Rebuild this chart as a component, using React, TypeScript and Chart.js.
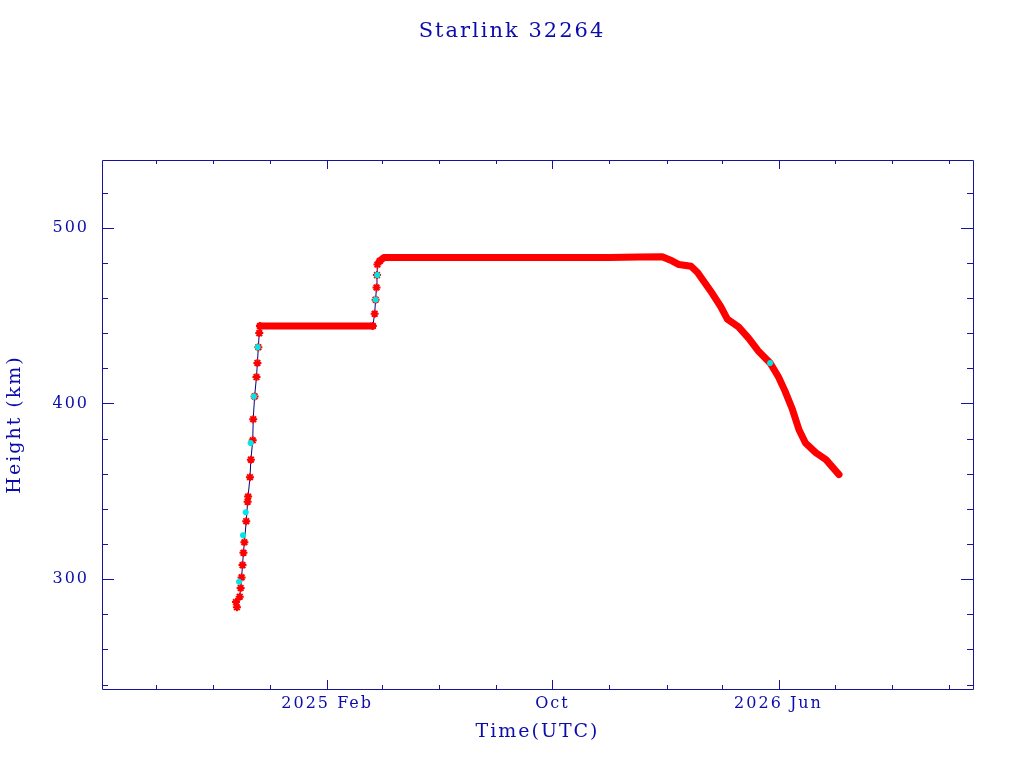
import React, { useEffect, useRef } from "react";
import { Chart, registerables } from "chart.js";

Chart.register(...registerables);

// ---- data ----
const TITLE = "Starlink 32264";
const X_TITLE = "Time(UTC)";
const Y_TITLE = "Height (km)";

const X_MIN = "2024-06-04";
const X_MAX = "2026-12-27";
const Y_MIN = 237.5;
const Y_MAX = 538.5;

const xMajorTicks = ["2025-02-01", "2025-10-01", "2026-06-01"];
const xMajorLabels = ["2025 Feb", "Oct", "2026 Jun"];
const xMinorTicks = [
  "2024-08-01", "2024-10-01", "2024-12-01", "2025-04-01", "2025-06-01", "2025-08-01",
  "2025-12-01", "2026-02-01", "2026-04-01", "2026-08-01", "2026-10-01", "2026-12-01",
];
const yMajorTicks = [300, 400, 500];
const yMinorTicks = [240, 260, 280, 320, 340, 360, 380, 420, 440, 460, 480, 520];

// first orbit raise (sparse observations)
const rise1Dates = [
  "2024-10-26T00:00", "2024-10-27T00:00", "2024-10-30T00:00", "2024-10-31T00:00",
  "2024-11-01T00:00", "2024-11-02T00:00", "2024-11-03T00:00", "2024-11-04T00:00",
  "2024-11-06T00:00", "2024-11-07T12:00", "2024-11-08T00:00", "2024-11-10T00:00",
  "2024-11-11T00:00", "2024-11-13T00:00", "2024-11-13T12:00", "2024-11-15T00:00",
  "2024-11-17T00:00", "2024-11-18T00:00", "2024-11-19T00:00", "2024-11-20T00:00",
  "2024-11-20T18:00",
];
const rise1Heights = [
  287, 284, 290, 295, 301, 308, 315, 321, 333, 344, 347, 358, 368, 379, 391, 404,
  415, 423, 432, 440, 444,
];

// second orbit raise
const rise2Dates = [
  "2025-03-22T00:00", "2025-03-24T00:00", "2025-03-25T00:00", "2025-03-26T00:00",
  "2025-03-26T12:00", "2025-03-27T00:00", "2025-03-29T12:00",
];
const rise2Heights = [444, 451, 459, 466, 473, 479, 481];

// dense tracks (first and second shell)
const track1Dates = [
  "2024-11-20T18:00", "2024-12-15T00:00", "2025-01-10T00:00", "2025-02-05T00:00",
  "2025-03-01T00:00", "2025-03-22T00:00",
];
const track1Heights = [444, 444, 444, 444, 444, 444];

const track2Dates = [
  "2025-03-29T12:00", "2025-04-03T00:00", "2025-06-01T00:00", "2025-08-01T00:00",
  "2025-10-01T00:00", "2025-12-01T00:00", "2026-01-02T00:00", "2026-01-27T00:00",
  "2026-02-07T00:00", "2026-02-14T00:00", "2026-02-27T00:00", "2026-03-06T00:00",
  "2026-03-20T00:00", "2026-03-31T00:00", "2026-04-07T00:00", "2026-04-19T00:00",
  "2026-04-30T00:00", "2026-05-10T00:00", "2026-05-23T00:00", "2026-06-01T00:00",
  "2026-06-08T00:00", "2026-06-16T00:00", "2026-06-23T00:00", "2026-06-30T00:00",
  "2026-07-11T00:00", "2026-07-22T00:00", "2026-08-05T00:00",
];
const track2Heights = [
  481, 483, 483, 483, 483, 483, 483.3, 483.5, 481, 479, 478, 474.5, 464, 455, 448,
  443.5, 437, 430, 423, 415, 407, 396.5, 385, 377.5, 372, 368, 359.5,
];

// cyan-marked observations
const cyanDates = [
  "2024-10-29T06:00", "2024-11-02T12:00", "2024-11-05T10:00", "2024-11-10T18:00",
  "2024-11-14T08:00", "2024-11-18T08:00", "2025-03-25T00:00", "2025-03-26T18:00",
  "2026-05-23T00:00",
];
const cyanHeights = [298.5, 325, 338, 377.5, 404, 432, 459, 473, 423];

// ---- styling ----
const TEXT_BLUE = "#0c0cac";
const AXIS_BLUE = "#14149c";
const FONT = "'DejaVu Serif', 'Liberation Serif', serif";

const toMs = (s: string) => Date.parse(s.length === 10 ? s + "T00:00:00Z" : s + ":00Z");
const pts = (d: string[], h: number[]) => d.map((s, i) => ({ x: toMs(s), y: h[i] }));

const spacingPlugin = {
  id: "letterSpacing",
  beforeLayout(chart: any) {
    (chart.ctx as any).letterSpacing = "2px";
  },
  beforeDraw(chart: any) {
    (chart.ctx as any).letterSpacing = "2px";
  },
};

const framePlugin = {
  id: "pgFrame",
  afterDraw(chart: any) {
    const { ctx, chartArea, scales } = chart;
    const { left, right, top, bottom } = chartArea;
    const xs = scales.x;
    const ys = scales.y;
    ctx.save();
    ctx.strokeStyle = AXIS_BLUE;
    ctx.lineWidth = 1;
    ctx.beginPath();
    ctx.rect(Math.round(left) + 0.5, Math.round(top) + 0.5, Math.round(right - left), Math.round(bottom - top));
    const vt = (ms: number, len: number) => {
      const px = Math.round(xs.getPixelForValue(ms)) + 0.5;
      ctx.moveTo(px, bottom);
      ctx.lineTo(px, bottom - len);
      ctx.moveTo(px, top);
      ctx.lineTo(px, top + len);
    };
    const ht = (v: number, len: number) => {
      const py = Math.round(ys.getPixelForValue(v)) + 0.5;
      ctx.moveTo(left, py);
      ctx.lineTo(left + len, py);
      ctx.moveTo(right, py);
      ctx.lineTo(right - len, py);
    };
    xMajorTicks.forEach((d) => vt(toMs(d), 9));
    xMinorTicks.forEach((d) => vt(toMs(d), 4));
    yMajorTicks.forEach((v) => ht(v, 12));
    yMinorTicks.forEach((v) => ht(v, 6));
    ctx.stroke();
    ctx.restore();
  },
};

export default function App() {
  const ref = useRef<HTMLCanvasElement | null>(null);

  useEffect(() => {
    document.body.style.margin = "0";
    if (!ref.current) return;
    const riseStyle = {
      borderColor: "#000080",
      borderWidth: 1,
      showLine: true,
      pointStyle: "star" as const,
      pointRadius: 4,
      pointBorderColor: "#ff0000",
      pointBackgroundColor: "#ff0000",
      pointBorderWidth: 2,
      tension: 0,
    };
    const trackStyle = {
      borderColor: "#ff0000",
      borderWidth: 7,
      showLine: true,
      pointRadius: 0,
      borderJoinStyle: "round" as const,
      borderCapStyle: "round" as const,
      tension: 0,
    };
    const chart = new Chart(ref.current, {
      type: "scatter",
      data: {
        datasets: [
          {
            data: pts(cyanDates, cyanHeights),
            showLine: false,
            pointStyle: "star",
            pointRadius: 3,
            pointBorderColor: "#00e6e6",
            pointBackgroundColor: "#00e6e6",
            pointBorderWidth: 2,
          },
          { data: pts(rise1Dates, rise1Heights), ...riseStyle },
          { data: pts(rise2Dates, rise2Heights), ...riseStyle },
          { data: pts(track1Dates, track1Heights), ...trackStyle },
          { data: pts(track2Dates, track2Heights), ...trackStyle },
        ] as any,
      },
      options: {
        responsive: false,
        animation: false,
        devicePixelRatio: 1,
        layout: { padding: { left: 0, right: 0, top: 0, bottom: 0 } },
        plugins: {
          legend: { display: false },
          tooltip: { enabled: false },
          title: {
            display: true,
            text: TITLE,
            color: TEXT_BLUE,
            font: { family: FONT, size: 21, weight: "normal" },
            padding: { top: 19.4, bottom: 115.4 },
          },
        },
        scales: {
          x: {
            type: "linear",
            min: toMs(X_MIN),
            max: toMs(X_MAX),
            grid: { display: false, drawTicks: false },
            border: { display: false },
            afterBuildTicks: (s: any) => {
              s.ticks = xMajorTicks.map((d) => ({ value: toMs(d) }));
            },
            afterFit: (s: any) => {
              s.height = 79;
            },
            ticks: {
              autoSkip: false,
              maxRotation: 0,
              color: TEXT_BLUE,
              padding: 5,
              font: { family: FONT, size: 16 },
              callback: (_v: any, i: number) => xMajorLabels[i],
            },
            title: {
              display: true,
              text: X_TITLE,
              color: TEXT_BLUE,
              font: { family: FONT, size: 19 },
              padding: { top: 0, bottom: 24.6 },
            },
          },
          y: {
            type: "linear",
            min: Y_MIN,
            max: Y_MAX,
            grid: { display: false, drawTicks: false },
            border: { display: false },
            afterBuildTicks: (s: any) => {
              s.ticks = yMajorTicks.map((v) => ({ value: v }));
            },
            afterFit: (s: any) => {
              s.width = 102;
            },
            ticks: {
              color: TEXT_BLUE,
              padding: 13,
              font: { family: FONT, size: 16 },
              callback: (v: any) => String(v),
            },
            title: {
              display: true,
              text: Y_TITLE,
              color: TEXT_BLUE,
              font: { family: FONT, size: 19 },
              padding: { top: 3.6, bottom: 0 },
            },
          },
          yRight: {
            type: "linear",
            position: "right",
            display: true,
            grid: { display: false, drawTicks: false },
            border: { display: false },
            ticks: { display: false },
            afterFit: (s: any) => {
              s.width = 51;
            },
          },
        },
      } as any,
      plugins: [spacingPlugin, framePlugin],
    });
    return () => chart.destroy();
  }, []);

  return (
    <div style={{ position: "absolute", left: 0, top: 0, width: 1024, height: 768, background: "#ffffff" }}>
      <canvas ref={ref} width={1024} height={768} style={{ display: "block" }} />
    </div>
  );
}
